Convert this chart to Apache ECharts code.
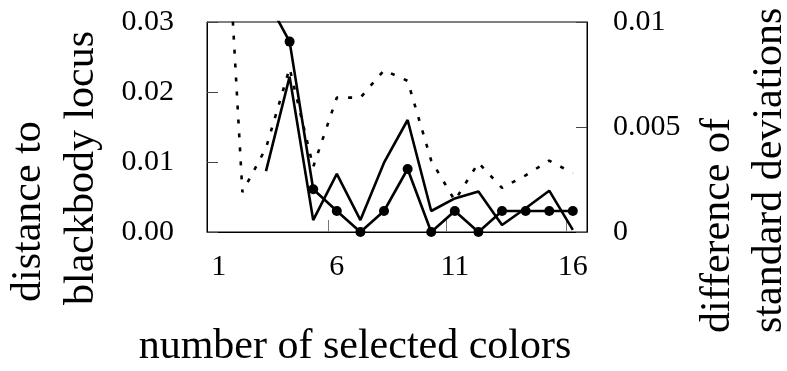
<!DOCTYPE html>
<html>
<head>
<meta charset="utf-8">
<script src="https://cdn.jsdelivr.net/npm/echarts@6/dist/echarts.min.js"></script>
<style>
html,body{margin:0;padding:0;background:#fff;}
#chart{width:787px;height:371px;}
</style>
</head>
<body>
<div id="chart"></div>
<script>
// ---- data ----
var xValues = [1, 2, 3, 4, 5, 6, 7, 8, 9, 10, 11, 12, 13, 14, 15, 16];
// distance to blackbody locus, solid line with dots (left axis)
var distanceDots = [null, null, 0.0334, 0.0272, 0.0061, 0.0030, 0.0000, 0.0030, 0.0090, 0.0000, 0.0030, 0.0000, 0.0030, 0.0030, 0.0030, 0.0030];
// distance to blackbody locus, plain solid line (left axis)
var distanceLine = [null, null, 0.0087, 0.0222, 0.0017, 0.0083, 0.0017, 0.0099, 0.0160, 0.0030, 0.0048, 0.0058, 0.0010, 0.0034, 0.0059, 0.0003];
// difference of standard deviations, dotted line (right axis)
var stdDiff = [0.0220, 0.0019, 0.0040, 0.0078, 0.0031, 0.0064, 0.0064, 0.0077, 0.0072, 0.0034, 0.0015, 0.0033, 0.0021, 0.0027, 0.0034, 0.0028];
var xLabelValues = [1, 6, 11, 16];
var xTickValues = [5.65, 10.65, 15.7];
var leftTicks = [0, 0.01, 0.02, 0.03];
var rightTicks = [0, 0.005, 0.01];
var xTitle = 'number of selected colors';
var leftTitle = ['distance to', 'blackbody locus'];
var rightTitle = ['difference of', 'standard deviations'];

function pairs(vals) {
  var out = [];
  for (var i = 0; i < xValues.length; i++) {
    if (vals[i] !== null) out.push([xValues[i], vals[i]]);
  }
  return out;
}

var FONT = '"Liberation Serif", "Times New Roman", serif';
var chart = echarts.init(document.getElementById('chart'));
var option = {
  animation: false,
  backgroundColor: '#fff',
  grid: {
    left: 207, right: 200, top: 22, bottom: 139,
    show: true, borderColor: '#000', borderWidth: 1, containLabel: false
  },
  xAxis: {
    type: 'value', min: 0.5, max: 16.6,
    axisLine: { show: true, onZero: false, lineStyle: { color: '#000', width: 1 } },
    axisTick: { show: true, inside: true, length: 12, customValues: xTickValues, lineStyle: { color: '#777', width: 1 } },
    axisLabel: { customValues: xLabelValues, margin: 20, fontSize: 30, fontFamily: FONT, color: '#000' },
    splitLine: { show: false }
  },
  yAxis: [
    {
      type: 'value', min: 0, max: 0.03, interval: 0.01, position: 'left',
      axisLine: { show: true, lineStyle: { color: '#000', width: 1 } },
      axisTick: { show: true, inside: true, length: 11, customValues: leftTicks, lineStyle: { color: '#444', width: 1 } },
      axisLabel: { customValues: leftTicks, margin: 33, fontSize: 30, fontFamily: FONT, color: '#000',
        formatter: function (v) { return v.toFixed(2); } },
      splitLine: { show: false }
    },
    {
      type: 'value', min: 0, max: 0.01, interval: 0.005, position: 'right',
      axisLine: { show: true, lineStyle: { color: '#000', width: 1 } },
      axisTick: { show: true, inside: true, length: 11, customValues: rightTicks, lineStyle: { color: '#444', width: 1 } },
      axisLabel: { customValues: rightTicks, margin: 26, fontSize: 30, fontFamily: FONT, color: '#000',
        formatter: function (v) { return v === 0 ? '0' : String(+v.toFixed(3)); } },
      splitLine: { show: false }
    }
  ],
  series: [
    {
      name: 'stdDiff', type: 'line', yAxisIndex: 1, data: pairs(stdDiff),
      showSymbol: false, symbol: 'none', clip: true,
      lineStyle: { color: '#000', width: 2.6, type: [4, 10], cap: 'butt' }, z: 2
    },
    {
      name: 'distanceLine', type: 'line', yAxisIndex: 0, data: pairs(distanceLine),
      showSymbol: false, symbol: 'none', clip: true,
      lineStyle: { color: '#000', width: 2.6 }, z: 3
    },
    {
      name: 'distanceDots', type: 'line', yAxisIndex: 0, data: pairs(distanceDots),
      symbol: 'circle', symbolSize: 10, showSymbol: true, clip: true,
      itemStyle: { color: '#000' },
      lineStyle: { color: '#000', width: 2.6 }, z: 4
    }
  ],
  graphic: [
    { type: 'text', x: 355, y: 347, style: { text: xTitle, font: '42px ' + FONT, fill: '#000', textAlign: 'center', textVerticalAlign: 'middle' } },
    { type: 'text', x: 29, y: 302, rotation: Math.PI / 2, style: { text: leftTitle[0], font: '42px ' + FONT, fill: '#000', textAlign: 'left', textVerticalAlign: 'middle' } },
    { type: 'text', x: 82, y: 305, rotation: Math.PI / 2, style: { text: leftTitle[1], font: '42px ' + FONT, fill: '#000', textAlign: 'left', textVerticalAlign: 'middle' } },
    { type: 'text', x: 718, y: 333, rotation: Math.PI / 2, style: { text: rightTitle[0], font: '42px ' + FONT, fill: '#000', textAlign: 'left', textVerticalAlign: 'middle' } },
    { type: 'text', x: 770, y: 333, rotation: Math.PI / 2, style: { text: rightTitle[1], font: '42px ' + FONT, fill: '#000', textAlign: 'left', textVerticalAlign: 'middle' } }
  ]
};
chart.setOption(option);
</script>
</body>
</html>
